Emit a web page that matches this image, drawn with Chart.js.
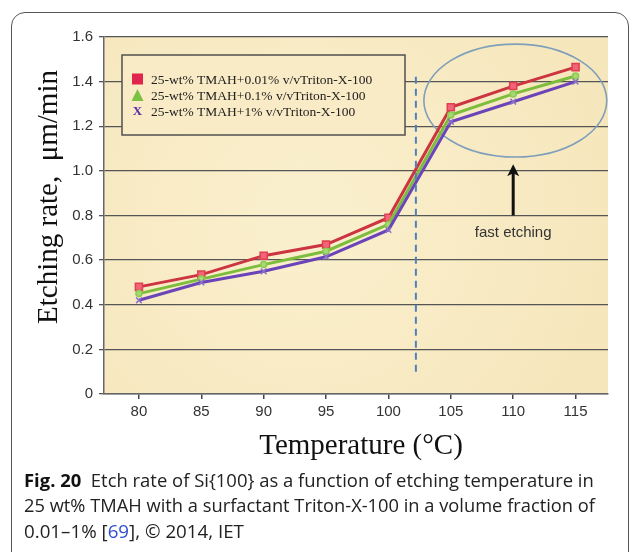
<!DOCTYPE html>
<html>
<head>
<meta charset="utf-8">
<script src="https://cdn.jsdelivr.net/npm/chart.js@4.4.1/dist/chart.umd.min.js"></script>
<style>
  html, body { margin: 0; padding: 0; background: #fff; }
  #page { position: relative; width: 629px; height: 552px; overflow: hidden; }
  #frame {
    position: absolute; left: 11px; top: 12px; width: 618px; height: 580px;
    border: 1.5px solid #555; border-radius: 14px; box-sizing: border-box;
  }
  #chart-wrap { position: absolute; left: 0; top: 0; width: 629px; height: 470px; }
  .cap {
    position: absolute; left: 24px; white-space: nowrap;
    font-family: "Open Sans", sans-serif; font-size: 18px; color: #222;
    transform-origin: 0 0; line-height: 1;
  }
  .cap b { font-weight: 700; color: #111; }
  .cap .ref { color: #2f4fd0; }
</style>
</head>
<body>
<div id="page">
  <div id="frame"></div>
  <div id="chart-wrap"><canvas id="chart-etch" width="629" height="470"></canvas></div>
  <div class="cap" id="cap1" style="top:471px"><b>Fig. 20</b>&nbsp; Etch rate of Si{100} as a function of etching temperature in</div>
  <div class="cap" id="cap2" style="top:496px">25 wt% TMAH with a surfactant Triton-X-100 in a volume fraction of</div>
  <div class="cap" id="cap3" style="top:522px">0.01–1% [<span class="ref">69</span>], © 2014, IET</div>
</div>

<script>
/* ─── Données ───────────────────────────────────────────────────────── */
const temps      = [80, 85, 90, 95, 100, 105, 110, 115];
const rate001    = [0.48, 0.535, 0.62, 0.67, 0.79, 1.285, 1.38, 1.465];
const rate01     = [0.45, 0.515, 0.58, 0.64, 0.76, 1.25, 1.345, 1.425];
const rate1      = [0.42, 0.50, 0.55, 0.615, 0.735, 1.22, 1.31, 1.40];
const seriesNames = [
  '25-wt% TMAH+0.01% v/vTriton-X-100',
  '25-wt% TMAH+0.1% v/vTriton-X-100',
  '25-wt% TMAH+1% v/vTriton-X-100'
];
const yTicks     = [0, 0.2, 0.4, 0.6, 0.8, 1.0, 1.2, 1.4, 1.6];

// seuil (trait pointillé), zone encerclée et flèche
const thresholdT     = 102.2;
const thresholdRange = [0.1, 1.44];
const fastZone       = { t: 110.17, v: 1.315, dt: 7.33, dv: 0.253 };
const arrowT         = 110;
const arrowRange     = [0.80, 1.03];
const arrowLabel     = 'fast etching';
const arrowLabelV    = 0.72;

const RED = '#cc3440', GREEN = '#7cbd3c', PURPLE = '#6a44b8';
const PAPER = '#f8ebc5';

const pts = vals => temps.map((t, i) => ({ x: t, y: vals[i] }));

/* ─── Décor du graphe ───────────────────────────────────────────────── */
const decor = {
  id: 'decor',
  beforeDraw(chart) {
    const { ctx, chartArea: a } = chart;
    ctx.save();
    const g = ctx.createRadialGradient(a.left + a.width * 0.4, a.top + a.height * 0.5, 40,
                                       a.left + a.width * 0.4, a.top + a.height * 0.5, a.width * 0.7);
    g.addColorStop(0, '#faefcc');
    g.addColorStop(1, '#f5e5ba');
    ctx.fillStyle = g;
    ctx.fillRect(a.left, a.top, a.width, a.height);
    ctx.restore();
  },
  beforeDatasetsDraw(chart) {
    const { ctx, scales: { x, y } } = chart;
    ctx.save();
    // cadre de légende (opaque, masque la grille)
    const bx = 122, by = 55, bw = 283, bh = 80;
    ctx.fillStyle = PAPER;
    ctx.fillRect(bx, by, bw, bh);
    ctx.strokeStyle = '#505050';
    ctx.lineWidth = 1.5;
    ctx.strokeRect(bx, by, bw, bh);

    const rows = [79, 95, 111];
    ctx.font = '13.5px "Liberation Serif", "Times New Roman", serif';
    ctx.textBaseline = 'middle';
    ctx.fillStyle = '#222';
    seriesNames.forEach((n, i) => ctx.fillText(n, 151, rows[i] + 1));
    // marqueurs
    ctx.fillStyle = '#e0264f';
    ctx.fillRect(132, rows[0] - 5.5, 11, 11);
    ctx.fillStyle = '#7cc142';
    ctx.beginPath();
    ctx.moveTo(137.5, rows[1] - 6); ctx.lineTo(143.5, rows[1] + 6); ctx.lineTo(131.5, rows[1] + 6);
    ctx.closePath(); ctx.fill();
    ctx.fillStyle = '#5b2aa8';
    ctx.font = 'bold 13px "Liberation Serif", serif';
    ctx.textAlign = 'center';
    ctx.fillText('X', 137.5, rows[2] + 1);

    // ellipse de la zone rapide
    ctx.strokeStyle = '#7f9fbb';
    ctx.lineWidth = 1.6;
    ctx.beginPath();
    ctx.ellipse(x.getPixelForValue(fastZone.t), y.getPixelForValue(fastZone.v),
                x.getPixelForValue(fastZone.t + fastZone.dt) - x.getPixelForValue(fastZone.t),
                y.getPixelForValue(fastZone.v) - y.getPixelForValue(fastZone.v + fastZone.dv),
                0, 0, Math.PI * 2);
    ctx.stroke();

    // flèche + texte
    const ax = x.getPixelForValue(arrowT);
    const y0 = y.getPixelForValue(arrowRange[0]), y1 = y.getPixelForValue(arrowRange[1]);
    ctx.strokeStyle = '#111';
    ctx.lineWidth = 3;
    ctx.beginPath(); ctx.moveTo(ax, y0); ctx.lineTo(ax, y1 + 8); ctx.stroke();
    ctx.fillStyle = '#111';
    ctx.beginPath();
    ctx.moveTo(ax, y1); ctx.lineTo(ax + 6, y1 + 12); ctx.lineTo(ax, y1 + 9); ctx.lineTo(ax - 6, y1 + 12);
    ctx.closePath(); ctx.fill();
    ctx.font = '15px "Liberation Sans", Arial, sans-serif';
    ctx.fillStyle = '#333';
    ctx.textAlign = 'center';
    ctx.fillText(arrowLabel, ax, y.getPixelForValue(arrowLabelV));
    ctx.restore();
  },
  afterDraw(chart) {
    const { ctx } = chart;
    ctx.save();
    ctx.fillStyle = '#111';
    ctx.font = '29px "Liberation Serif", "Times New Roman", serif';
    ctx.textAlign = 'center';
    ctx.textBaseline = 'alphabetic';
    ctx.fillText('Temperature (°C)', 361, 454);
    ctx.translate(57, 197);
    ctx.rotate(-Math.PI / 2);
    ctx.fillText('Etching rate,  μm/min', 0, 0);
    ctx.restore();
  }
};

/* ─── Graphe ────────────────────────────────────────────────────────── */
function lineSet(label, vals, color, extra) {
  return Object.assign({
    label, data: pts(vals), borderColor: color, borderWidth: 3,
    tension: 0, pointBorderWidth: 1.5
  }, extra);
}

new Chart(document.getElementById('chart-etch'), {
  type: 'line',
  data: {
    datasets: [
      {
        label: 'seuil', data: thresholdRange.map(v => ({ x: thresholdT, y: v })),
        borderColor: '#4f82b8', borderWidth: 2, borderDash: [7, 5], pointRadius: 0
      },
      lineSet(seriesNames[2], rate1, PURPLE, {
        pointStyle: 'crossRot', pointRadius: 4, pointBorderColor: '#8a70c8', pointBackgroundColor: PURPLE
      }),
      lineSet(seriesNames[1], rate01, GREEN, {
        pointStyle: 'circle', pointRadius: 3, pointBorderColor: '#8ccb50', pointBackgroundColor: '#a6d874'
      }),
      lineSet(seriesNames[0], rate001, RED, {
        pointStyle: 'rect', pointRadius: 5, pointBorderColor: '#e0404e', pointBackgroundColor: '#f2647a'
      })
    ]
  },
  options: {
    responsive: false,
    animation: false,
    layout: { padding: { top: 37, right: 21, left: 0, bottom: 0 } },
    plugins: { legend: { display: false }, tooltip: { enabled: false } },
    scales: {
      x: {
        type: 'linear', min: 77.2, max: 117.6,
        afterBuildTicks: s => { s.ticks = temps.map(v => ({ value: v })); },
        afterFit: s => { s.height = 470 - 394; },
        grid: { drawOnChartArea: false, tickLength: 5, color: '#444', lineWidth: 1.5 },
        border: { color: '#666', width: 1.5 },
        ticks: { color: '#333', padding: 4, font: { family: '"Liberation Sans", Arial', size: 15 } }
      },
      y: {
        min: 0, max: 1.6,
        afterBuildTicks: s => { s.ticks = yTicks.map(v => ({ value: v })); },
        afterFit: s => { s.width = 104; },
        grid: { color: '#555', lineWidth: 1.3, tickLength: 5 },
        border: { color: '#666', width: 1.5 },
        ticks: {
          color: '#333', padding: 6, font: { family: '"Liberation Sans", Arial', size: 15 },
          callback: v => v === 0 ? '0' : v.toFixed(1)
        }
      }
    }
  },
  plugins: [decor]
});

/* ─── Légende : ajuster la largeur des lignes ───────────────────────── */
[['cap1', 570], ['cap2', 571], ['cap3', 220]].forEach(([id, w]) => {
  const el = document.getElementById(id);
  const k = w / el.getBoundingClientRect().width;
  el.style.transform = `scaleX(${k.toFixed(3)})`;
});
</script>
</body>
</html>
